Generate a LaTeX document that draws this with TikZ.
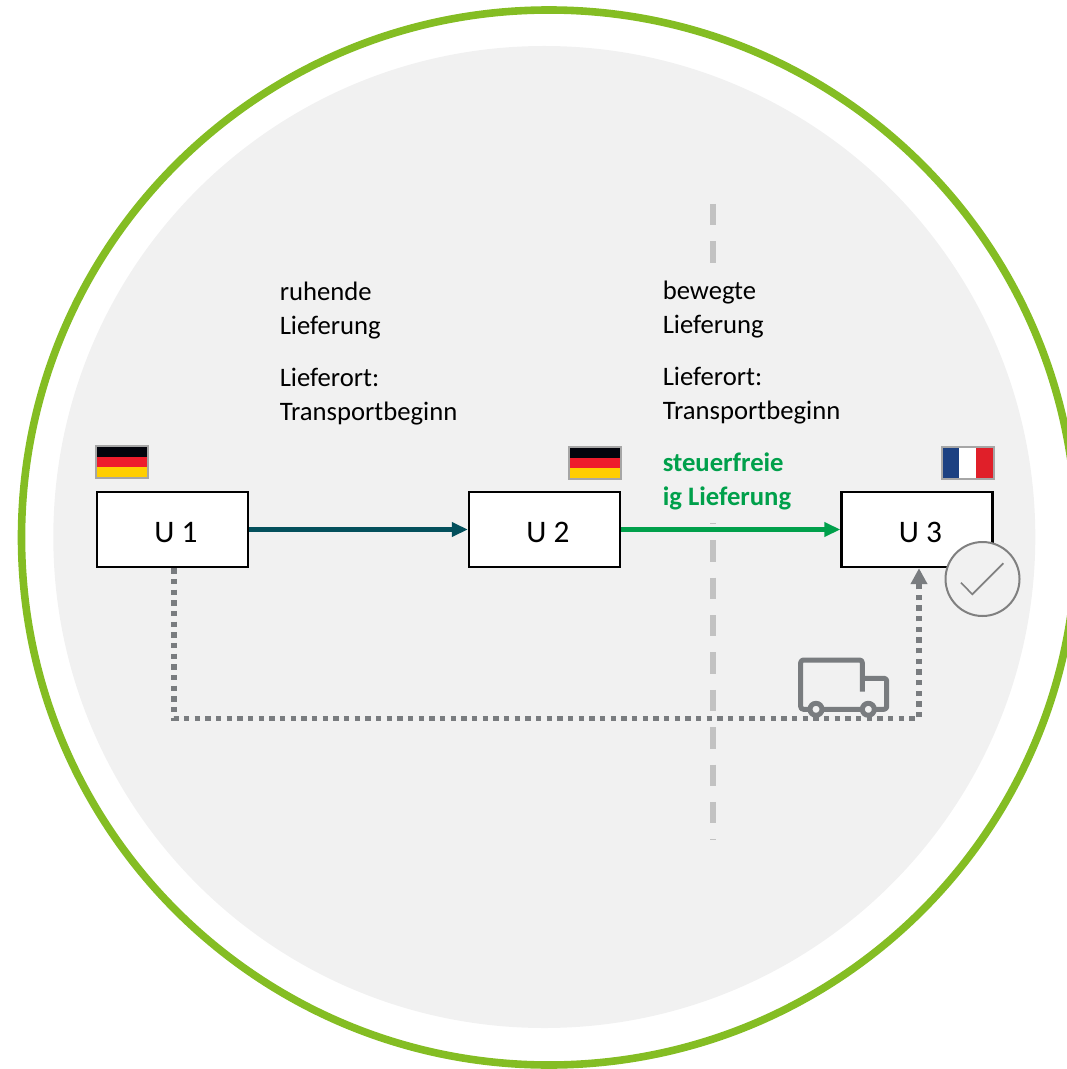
\documentclass[tikz,border=0pt]{standalone}
\usepackage{fontspec}
\setmainfont{Carlito}
\usetikzlibrary{positioning,arrows.meta}
\definecolor{ringgreen}{HTML}{84BD23}
\definecolor{discgrey}{HTML}{F1F1F1}
\definecolor{taxgreen}{HTML}{00A04B}
\definecolor{restteal}{HTML}{03505C}
\definecolor{routegrey}{HTML}{797C7F}
\definecolor{borderdash}{HTML}{C2C2C2}
\definecolor{flagedge}{HTML}{A6A6A6}
\definecolor{deblack}{HTML}{02040C}
\definecolor{dered}{HTML}{EE1C2C}
\definecolor{degold}{HTML}{FFCE00}
\definecolor{frblue}{HTML}{1C4182}
\definecolor{frred}{HTML}{E01F29}
\tikzset{
  party/.style={draw=black,fill=white,line width=1.8pt,minimum width=113.25pt,minimum height=56.25pt,
    inner sep=0pt,text height=19pt,text depth=0pt,font=\fontsize{23.5}{28}\selectfont,execute at begin node=\hspace*{5.2pt}},
  note/.style={fill=discgrey,anchor=north west,align=left,inner sep=0pt,font=\fontsize{20}{25.5}\selectfont},
  flagbox/.style={draw=flagedge,line width=1.5pt,minimum width=39pt,minimum height=24pt,inner sep=0pt},
  deflag/.style={flagbox,path picture={
    \fill[deblack] (path picture bounding box.north west) rectangle ([yshift=-8pt]path picture bounding box.north east);
    \fill[dered] ([yshift=-8pt]path picture bounding box.north west) rectangle ([yshift=8pt]path picture bounding box.south east);
    \fill[degold] ([yshift=8pt]path picture bounding box.south west) rectangle (path picture bounding box.south east);}},
  frflag/.style={flagbox,fill=white,path picture={
    \fill[frblue] (path picture bounding box.north west) rectangle ([xshift=13pt]path picture bounding box.south west);
    \fill[frred] ([xshift=-13pt]path picture bounding box.north east) rectangle (path picture bounding box.south east);}},
  flowarrow/.style={line width=3.75pt,-{Triangle[length=12pt,width=10.5pt]}},
  truckline/.style={routegrey,line width=3.75pt,line join=round,rounded corners=2pt},
}
\begin{document}
\begin{tikzpicture}[x=0.75pt,y=-0.75pt]
  \useasboundingbox (0,0) rectangle (1066,1069);
  \fill[discgrey] (544.3,537) circle (491);
  \draw[ringgreen,line width=5.7pt] (549,537.5) circle (527.5);
  % border line
  \coordinate (bordertop) at (713,204);
  \coordinate (borderend) at (713,840);
  \draw[borderdash,line width=4.2pt,dash pattern=on 16pt off 12.03pt] (bordertop) -- (borderend);
  % texts
  \node[note,text height=106.5pt] (resting) at (279.5,278) {ruhende\\Lieferung\\[13.5pt]Lieferort:\\Transportbeginn};
  \node[note,text height=170.25pt,text depth=13.5pt] (moving) at (662.5,278) {bewegte\\Lieferung\\[13.5pt]Lieferort:\\Transportbeginn\\[13pt]
    \textcolor{taxgreen}{\textbf{steuerfreie}}\\\textcolor{taxgreen}{\textbf{ig Lieferung}}};
  % flags
  \node[deflag] (flagone) at (122,462) {};
  \node[deflag] (flagtwo) at (595,463) {};
  \node[frflag] (flagthree) at (967.7,463) {};
  % parties
  \node[party] (u1) at (172.4,529.5) {U 1};
  \node[party] (u2) at (544.5,529.5) {U 2};
  \node[party] (u3) at (917,529.5) {U 3};
  \draw[restteal,flowarrow] (u1) -- (u2);
  \draw[taxgreen,flowarrow] (u2) -- (u3);
  % transport route
  \coordinate (routeleft) at (174,718.3);
  \coordinate (routeright) at (919,718.3);
  \draw[routegrey,line width=4pt,dash pattern=on 4pt off 4pt,-{Triangle[length=12pt,width=12pt]}]
    (routeleft |- u1.south) -- (routeleft) -- (routeright) -- (routeright |- u3.south);
  % truck
  \draw[truckline] (862.3,691.7) -- (862.3,660) -- (800.7,660) -- (800.7,709.3) -- (886.7,709.3) -- (886.7,678.3) -- (862.3,678.3);
  \draw[routegrey,line width=3.75pt,fill=discgrey] (816,709.3) circle (6);
  \draw[routegrey,line width=3.75pt,fill=discgrey] (868.3,709.3) circle (6);
  % check mark
  \node[circle,draw=gray,fill=discgrey,line width=1.5pt,minimum size=55.5pt,inner sep=0pt] (okmark) at (982.5,579) {};
  \draw[gray,line width=1.2pt] (961,582.7) -- (972.3,594.3) -- (1003.3,563.3);
\end{tikzpicture}
\end{document}
